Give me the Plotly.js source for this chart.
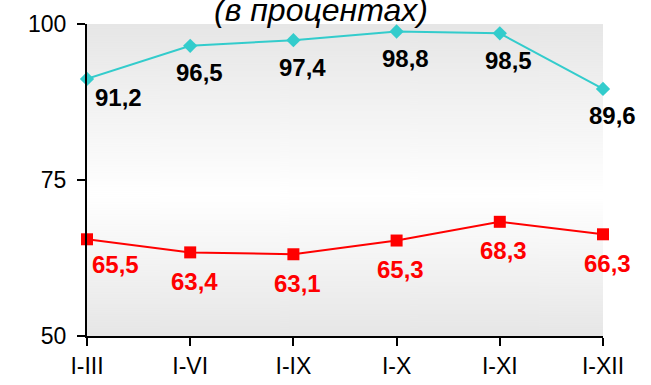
<!DOCTYPE html>
<html>
<head>
<meta charset="utf-8">
<script src="https://cdn.plot.ly/plotly-3.0.1.min.js"></script>
<style>
  html, body { margin: 0; padding: 0; background: #ffffff; }
  #chart { width: 651px; height: 385px; }
</style>
</head>
<body>
<div id="chart"></div>
<script>
// ---- data ----
const categories = ["I-III", "I-VI", "I-IX", "I-X", "I-XI", "I-XII"];
const seriesTop = [91.2, 96.5, 97.4, 98.8, 98.5, 89.6];
const seriesBottom = [65.5, 63.4, 63.1, 65.3, 68.3, 66.3];
const yTicks = [50, 75, 100];
const titleText = "(в процентах)";

const fmt = v => v.toFixed(1).replace(".", ",");
const FONT = "Liberation Sans, Arial, sans-serif";

// gradient background image for plot area
function gradientURL() {
  const c = document.createElement("canvas");
  c.width = 4; c.height = 312;
  const ctx = c.getContext("2d");
  const g = ctx.createLinearGradient(0, 0, 0, c.height);
  g.addColorStop(0, "#e6e6e6");
  g.addColorStop(0.55, "#ffffff");
  g.addColorStop(1, "#e6e6e6");
  ctx.fillStyle = g;
  ctx.fillRect(0, 0, c.width, c.height);
  return c.toDataURL("image/png");
}

const traces = [
  {
    x: categories, y: seriesTop, type: "scatter", mode: "lines+markers",
    line: { color: "#33CCCC", width: 2 },
    marker: { symbol: "diamond", size: 11, color: "#33CCCC" },
    cliponaxis: false, hoverinfo: "skip"
  },
  {
    x: categories, y: seriesBottom, type: "scatter", mode: "lines+markers",
    line: { color: "#FF0000", width: 2 },
    marker: { symbol: "square", size: 12, color: "#FF0000" },
    cliponaxis: false, hoverinfo: "skip"
  }
];

function labels(values, color, firstDx, firstDy, dx, dy) {
  return values.map((v, i) => ({
    x: categories[i], y: v, xref: "x", yref: "y",
    text: fmt(v), showarrow: false,
    xanchor: "center", yanchor: "middle",
    xshift: i === 0 ? firstDx : dx,
    yshift: -(i === 0 ? firstDy : dy),
    font: { family: FONT, size: 24, color: color, weight: "bold" }
  }));
}

const annotations = [
  ...labels(seriesTop, "#000000", 31, 19, 9, 27),
  ...labels(seriesBottom, "#FF0000", 28, 25, 4, 29)
];

const layout = {
  width: 651, height: 385,
  margin: { l: 87, r: 48, t: 24, b: 49, pad: 0 },
  paper_bgcolor: "#ffffff",
  plot_bgcolor: "rgba(0,0,0,0)",
  showlegend: false,
  font: { family: FONT, color: "#000000" },
  title: {
    text: titleText,
    font: { family: FONT, size: 32, style: "italic", color: "#000000" },
    x: 0.493, xref: "container", xanchor: "center",
    y: 0.975, yref: "container", yanchor: "middle"
  },
  annotations: annotations,
  images: [{
    source: gradientURL(), xref: "paper", yref: "paper",
    x: 0, y: 1, sizex: 1, sizey: 1, xanchor: "left", yanchor: "top",
    sizing: "stretch", layer: "below"
  }],
  xaxis: {
    type: "category", range: [0, 5], showgrid: false, zeroline: false,
    showline: true, linecolor: "#000000", linewidth: 2,
    ticks: "outside", ticklen: 8, tickwidth: 2, tickcolor: "#000000",
    tickfont: { size: 23, color: "#000000" }, fixedrange: true
  },
  yaxis: {
    range: [50, 100], tickvals: yTicks, ticktext: yTicks.map(String),
    showgrid: false, zeroline: false,
    showline: true, linecolor: "#000000", linewidth: 2,
    ticks: "outside", ticklen: 8, tickwidth: 2, tickcolor: "#000000",
    tickfont: { size: 23, color: "#000000" }, ticklabelstandoff: 6, fixedrange: true
  }
};

Plotly.newPlot("chart", traces, layout, { displayModeBar: false, staticPlot: true });
</script>
</body>
</html>
